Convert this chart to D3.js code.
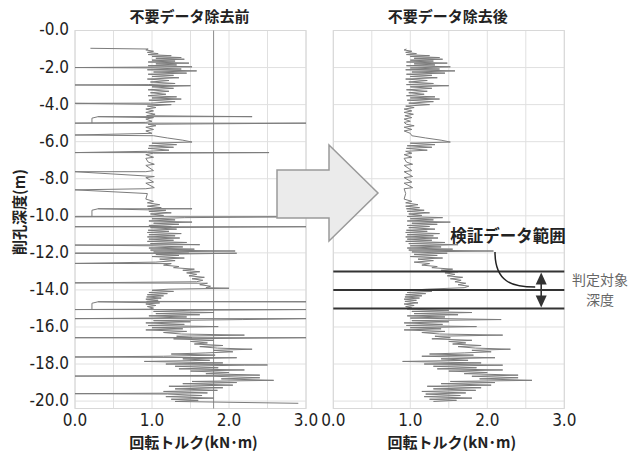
<!DOCTYPE html>
<html>
<head>
<meta charset="utf-8">
<script src="https://cdn.jsdelivr.net/npm/d3@7"></script>
<style>
  body { margin: 0; background: #fff; }
  svg { display: block; }
  text { font-family: "Noto Sans CJK JP", "Noto Sans", sans-serif; }
  .tick-label { font-family: "Liberation Sans Narrow", "DejaVu Sans Condensed", sans-serif; font-size: 17px; fill: #1e1e1e; }
</style>
</head>
<body>
<svg id="chart" width="633" height="452"></svg>
<script>
// cleaned torque profile (depth in m, torque in kN·m)
const afterDepth = [
  1.00,1.05,1.12,1.18,1.25,1.30,1.36,1.40,1.46,1.50,1.55,1.60,1.65,1.70,1.76,1.80,1.86,1.90,1.96,2.02,
  2.08,2.12,2.18,2.24,2.30,2.36,2.42,2.48,2.55,2.62,2.70,2.78,2.86,2.92,2.98,3.04,3.12,3.20,3.28,3.36,
  3.44,3.52,3.58,3.64,3.70,3.76,3.84,3.92,4.00,4.08,4.16,4.24,4.34,4.42,4.52,4.60,4.70,4.78,4.90,4.96,
  5.06,5.14,5.22,5.34,5.42,5.55,5.68,5.80,5.92,6.02,6.08,6.16,6.22,6.30,6.36,6.46,6.52,6.62,6.70,6.84,
  6.90,7.10,7.22,7.28,7.56,7.62,7.88,7.94,8.18,8.24,8.48,8.54,8.80,9.10,9.22,9.30,9.40,9.48,9.56,9.62,
  9.70,9.76,9.84,9.90,9.98,10.04,10.10,10.16,10.22,10.28,10.34,10.40,10.46,10.52,10.58,10.64,10.72,10.78,10.84,10.90,
  10.96,11.02,11.08,11.14,11.20,11.26,11.32,11.38,11.44,11.50,11.56,11.62,11.68,11.74,11.80,11.85,11.90,11.95,12.02,12.08,
  12.14,12.20,12.28,12.34,12.42,12.50,12.58,12.66,12.74,12.80,12.88,12.94,13.02,13.08,13.16,13.24,13.32,13.40,13.48,13.56,
  13.64,13.72,13.80,13.88,13.96,14.02,14.08,14.14,14.20,14.26,14.32,14.38,14.44,14.50,14.56,14.62,14.70,14.76,14.84,14.90,
  14.98,15.04,15.10,15.16,15.22,15.28,15.34,15.40,15.46,15.52,15.60,15.66,15.72,15.78,15.86,15.92,15.98,16.04,16.10,16.16,
  16.24,16.30,16.38,16.44,16.50,16.58,16.64,16.72,16.78,16.86,16.92,17.00,17.06,17.14,17.20,17.26,17.34,17.40,17.46,17.52,
  17.58,17.66,17.72,17.80,17.86,17.94,18.00,18.06,18.12,18.20,18.26,18.32,18.38,18.46,18.52,18.60,18.66,18.74,18.80,18.88,
  18.94,19.00,19.06,19.14,19.20,19.28,19.34,19.42,19.48,19.56,19.62,19.70,19.76,19.84,19.90,19.96,20.02
];
const afterTorque = [
  0.95,0.92,1.02,0.94,1.08,0.95,1.25,1.00,1.38,1.05,1.42,1.00,1.30,0.95,1.48,1.05,1.32,0.95,1.52,1.00,
  1.38,0.94,1.58,1.02,1.45,0.95,1.28,1.00,1.35,0.94,1.22,0.98,1.30,0.95,1.50,1.00,1.28,0.95,1.22,0.98,
  1.18,0.95,1.32,1.00,1.38,0.96,1.30,0.98,1.25,0.94,1.05,0.92,1.02,0.92,1.04,0.93,1.02,0.92,1.00,0.92,
  0.95,1.05,0.92,1.02,0.92,1.00,1.02,1.20,1.40,1.52,1.00,1.32,0.96,1.28,0.95,1.22,0.94,1.02,0.92,1.02,
  0.92,0.95,1.03,0.92,1.02,0.92,1.03,0.92,1.02,0.92,1.03,0.92,0.94,0.92,1.02,0.94,1.10,0.94,1.12,0.95,
  1.18,0.96,1.25,0.98,1.15,0.96,1.42,1.00,1.30,0.96,1.52,1.02,1.35,0.96,1.25,0.98,1.32,0.95,1.22,0.94,
  1.38,0.96,1.30,0.94,1.36,0.96,1.28,0.94,1.45,0.98,1.62,1.00,1.40,0.96,1.55,0.98,2.08,1.02,1.48,1.05,
  1.35,1.00,1.42,1.10,1.30,1.05,1.25,1.15,1.35,1.28,1.55,1.40,1.62,1.45,1.58,1.48,1.68,1.52,1.66,1.58,
  1.72,1.62,1.76,1.70,1.22,1.00,1.28,0.96,1.20,0.94,1.15,0.93,1.12,0.92,1.08,0.93,1.10,0.92,1.05,0.94,
  1.02,0.96,1.50,1.02,1.80,1.05,1.62,0.96,1.45,1.00,2.18,1.02,1.50,0.92,1.42,0.95,1.86,1.00,1.40,0.92,
  1.45,1.15,1.38,2.20,1.32,1.52,1.28,1.80,1.50,1.72,1.55,1.92,1.62,1.85,2.30,1.80,2.05,1.70,1.25,1.82,
  1.15,2.10,1.40,1.75,0.90,1.92,1.18,2.20,1.30,1.86,1.35,2.20,1.50,2.00,1.70,2.40,1.80,2.40,1.90,2.58,
  1.52,2.10,1.40,2.05,1.22,1.92,1.30,1.85,1.15,1.72,1.20,1.65,1.18,1.80,1.25,1.60,1.30
];

// extra raw readings removed by the cleaning step
const spikeDepth = [
  0.96, 2.00, 2.94, 3.93, 4.65, 4.65, 5.00, 5.00, 5.64, 6.59, 6.59, 7.62, 8.60, 9.62, 9.62,
  10.05, 10.05, 10.59, 10.59, 11.58, 12.02, 12.02, 12.57, 13.62, 13.91, 14.64, 14.64,
  15.06, 15.06, 15.55, 15.55, 16.58, 16.58, 17.62, 18.05, 18.65, 19.60, 20.12
];
const spikeTorque = [
  0.20, 0.00, 0.00, 0.00, 2.30, 0.30, 0.00, 3.00, 0.00, 0.00, 2.52, 0.00, 0.00, 1.52, 0.30,
  0.00, 3.00, 0.00, 3.00, 0.00, 0.00, 2.10, 0.00, 0.00, 2.00, 3.00, 0.30,
  0.00, 3.00, 0.00, 3.00, 0.00, 3.00, 0.00, 2.50, 0.00, 0.00, 2.90
];
const hookTop = [4.65, 9.62, 14.64];
const hookBottom = [5.00, 10.05, 15.06];
const hookTorque = [0.22, 0.22, 0.22];

const limitTorque = 1.8;
const judgeDepth = [13, 14, 15];

const xGrid = [0, 0.5, 1.0, 1.5, 2.0, 2.5, 3.0];
const xTicks = [0, 1, 2, 3];
const xTickLabels = ["0.0", "1.0", "2.0", "3.0"];
const yTicks = [0, 2, 4, 6, 8, 10, 12, 14, 16, 18, 20];
const yTickLabels = ["-0.0", "-2.0", "-4.0", "-6.0", "-8.0", "-10.0", "-12.0", "-14.0", "-16.0", "-18.0", "-20.0"];
const titles = ["不要データ除去前", "不要データ除去後"];

const svg = d3.select("#chart");

const y = d3.scaleLinear().domain([0, 20.4]).range([30.5, 408.5]);
const xL = d3.scaleLinear().domain([0, 3]).range([75, 306]);
const xR = d3.scaleLinear().domain([0, 3]).range([333.3, 564.3]);

// merge raw spikes into cleaned profile to get the "before" series
const afterPts = afterDepth.map((d, i) => ({ d: d, t: afterTorque[i], s: 0, i: i }));
const spikePts = spikeDepth.map((d, i) => ({ d: d, t: spikeTorque[i], s: 1, i: i }));
const beforePts = afterPts.concat(spikePts).sort((a, b) => a.d - b.d || a.s - b.s || a.i - b.i);

function drawPanel(x, title, pts, withAxis) {
  const g = svg.append("g");
  const [y0, y1] = y.range();
  const [x0, x1] = x.range();

  // grid
  g.selectAll(".vg").data(xGrid).enter().append("line")
    .attr("x1", d => x(d)).attr("x2", d => x(d))
    .attr("y1", y0).attr("y2", y1)
    .attr("stroke", "#e0e0e0").attr("stroke-width", 1);
  g.selectAll(".hg").data(yTicks).enter().append("line")
    .attr("x1", x0).attr("x2", x1)
    .attr("y1", d => y(d)).attr("y2", d => y(d))
    .attr("stroke", "#e0e0e0").attr("stroke-width", 1);
  g.append("rect")
    .attr("x", x0).attr("y", y0).attr("width", x1 - x0).attr("height", y1 - y0)
    .attr("fill", "none").attr("stroke", "#d8d8d8");

  // x tick labels
  g.selectAll(".xl").data(xTicks).enter().append("text")
    .attr("class", "tick-label")
    .attr("x", d => x(d)).attr("y", 426)
    .attr("text-anchor", "middle")
    .text((d, i) => xTickLabels[i]);

  if (withAxis) {
    g.selectAll(".yl").data(yTicks).enter().append("text")
      .attr("class", "tick-label")
      .attr("x", 69).attr("y", d => y(d) - 1)
      .attr("dy", "0.35em")
      .attr("text-anchor", "end")
      .text((d, i) => yTickLabels[i]);
    // limit line
    g.append("line")
      .attr("x1", x(limitTorque)).attr("x2", x(limitTorque))
      .attr("y1", y0).attr("y2", y1)
      .attr("stroke", "#8a8a8a").attr("stroke-width", 1);
  }

  // trace
  const line = d3.line().x(p => x(p.t)).y(p => y(p.d));
  g.append("path")
    .datum(pts)
    .attr("d", line)
    .attr("fill", "none")
    .attr("stroke", "#7c7c7c")
    .attr("stroke-width", 1)
    .attr("stroke-linejoin", "round");

  // title
  g.append("text")
    .attr("x", (x0 + x1) / 2 - 1).attr("y", 22)
    .attr("text-anchor", "middle")
    .attr("font-size", 15).attr("font-weight", "bold").attr("fill", "#222")
    .text(title);

  // x axis title
  g.append("text")
    .attr("x", (x0 + x1) / 2 + 3).attr("y", 448)
    .attr("text-anchor", "middle")
    .attr("font-size", 15).attr("font-weight", "bold").attr("fill", "#222")
    .text("回転トルク(kN･m)");
  return g;
}

const left = drawPanel(xL, titles[0], beforePts, true);
// the small hooks near 0 in the raw data
left.selectAll(".hook").data(hookTop).enter().append("path")
  .attr("d", (d, i) => d3.line()([
    [xL(0.30), y(d)],
    [xL(hookTorque[i]), y(d + 0.08)],
    [xL(hookTorque[i]), y(hookBottom[i])]
  ]))
  .attr("fill", "none").attr("stroke", "#7c7c7c").attr("stroke-width", 1);

svg.append("text")
  .attr("transform", "translate(18,212) rotate(-90)")
  .attr("text-anchor", "middle").attr("dominant-baseline", "central")
  .attr("font-size", 15).attr("font-weight", "bold").attr("fill", "#222")
  .text("削孔深度(m)");

const right = drawPanel(xR, titles[1], afterPts, false);

// judged depth lines
right.selectAll(".jl").data(judgeDepth).enter().append("line")
  .attr("x1", xR(0)).attr("x2", xR(3))
  .attr("y1", d => y(d)).attr("y2", d => y(d))
  .attr("stroke", "#333").attr("stroke-width", 2);

// double arrow between the judged lines
const ax = xR(2.7);
const yTop = y(judgeDepth[0]), yBot = y(judgeDepth[2]);
right.append("line")
  .attr("x1", ax).attr("x2", ax).attr("y1", yTop + 10).attr("y2", yBot - 10)
  .attr("stroke", "#333").attr("stroke-width", 1.6);
right.append("path")
  .attr("d", `M${ax},${yTop + 1}L${ax - 5.5},${yTop + 13}L${ax + 5.5},${yTop + 13}Z`)
  .attr("fill", "#333");
right.append("path")
  .attr("d", `M${ax},${yBot - 1}L${ax - 5.5},${yBot - 13}L${ax + 5.5},${yBot - 13}Z`)
  .attr("fill", "#333");

// callout
svg.append("text")
  .attr("x", 508).attr("y", 242)
  .attr("text-anchor", "middle")
  .attr("font-size", 16.5).attr("font-weight", "bold").attr("fill", "#222")
  .text("検証データ範囲");
svg.append("path")
  .attr("d", `M495,252 C495,282 512,287 ${ax - 6},287`)
  .attr("fill", "none").attr("stroke", "#222").attr("stroke-width", 1.5);

svg.append("text")
  .attr("x", 600).attr("y", 285)
  .attr("text-anchor", "middle").attr("font-size", 14).attr("fill", "#666")
  .text("判定対象");
svg.append("text")
  .attr("x", 600).attr("y", 305)
  .attr("text-anchor", "middle").attr("font-size", 14).attr("fill", "#666")
  .text("深度");

// big block arrow between panels
svg.append("path")
  .attr("d", "M277,170 L329,170 L329,145 L378,193 L329,241 L329,218 L277,218 Z")
  .attr("fill", "#ebebeb").attr("stroke", "#9a9a9a").attr("stroke-width", 1.5);
</script>
</body>
</html>
